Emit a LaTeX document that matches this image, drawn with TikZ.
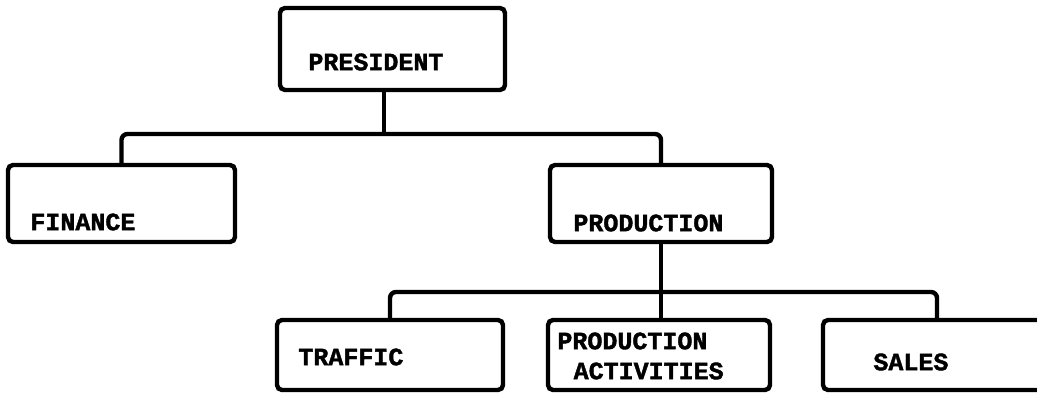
\documentclass[tikz,border=0pt]{standalone}
\usepackage{fontspec}
\setmonofont{Liberation Mono}[BoldFeatures={FakeBold=1.6}]
\begin{document}
\begin{tikzpicture}[x=0.5pt,y=-0.5pt,
    unitbox/.style={draw, line width=2.2pt, rounded corners=2.5pt, inner sep=0pt},
    link/.style={line width=2.2pt, rounded corners=3pt},
    boxtext/.style={anchor=west, inner sep=0pt, font=\ttfamily\bfseries\fontsize{12.5}{15}\selectfont}]
    \useasboundingbox (0,0) rectangle (1037,395);
    \clip (0,0) rectangle (1037,395);
    % boxes
    \node[unitbox, minimum width=112.5pt, minimum height=41pt] (pres) at (392.5,49) {};
    \node[unitbox, minimum width=113.5pt, minimum height=38.5pt] (fin) at (121.5,203.5) {};
    \node[unitbox, minimum width=111pt, minimum height=38.5pt] (prod) at (661,203.5) {};
    \node[unitbox, minimum width=113pt, minimum height=35pt] (traf) at (390,355) {};
    \node[unitbox, minimum width=111pt, minimum height=35pt] (pact) at (659,355) {};
    \node[unitbox, minimum width=114pt, minimum height=35pt] (sales) at (937,355) {};
    % texts
    \node[boxtext] (presl) at (308,62) {PRESIDENT};
    \node[boxtext] (finl) at (30,222) {FINANCE};
    \node[boxtext] (prodl) at (573,223) {PRODUCTION};
    \node[boxtext] (trafl) at (298,357) {TRAFFIC};
    \node[boxtext, align=left] (pactl) at (557,356) {PRODUCTION\\\hspace*{0.65em}ACTIVITIES};
    \node[boxtext] (salesl) at (873,362) {SALES};
    % connectors
    \coordinate (presbus) at (384,134);
    \coordinate (prodbus) at (661,292);
    \draw[link] (presbus |- pres.south) -- (presbus);
    \draw[link] (fin.north) |- (presbus) -| (prod.north);
    \draw[link] (prod.south) -- (prod.south |- pact.north);
    \draw[link] (traf.north) |- (prodbus) -| (sales.north);
\end{tikzpicture}
\end{document}
